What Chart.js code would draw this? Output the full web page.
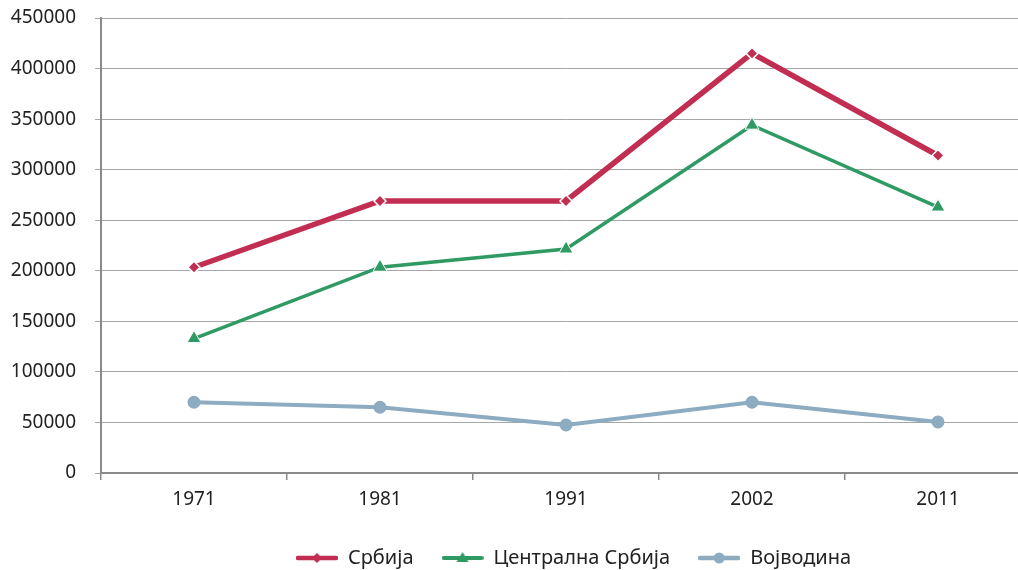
<!DOCTYPE html>
<html>
<head>
<meta charset="utf-8">
<script src="https://cdn.jsdelivr.net/npm/chart.js@4/dist/chart.umd.min.js"></script>
<style>
  html, body { margin: 0; padding: 0; background: #fff; overflow: hidden; }
  #wrap { width: 1040px; height: 578px; }
</style>
</head>
<body>
<div id="wrap"><canvas id="chart" width="1040" height="578"></canvas></div>
<script>
// Données
const years = ['1971', '1981', '1991', '2002', '2011'];
const srbija = [203500, 269000, 269000, 415000, 314000];
const centralnaSrbija = [133000, 203500, 221500, 344000, 263000];
const vojvodina = [70000, 65000, 47500, 70000, 50500];
const yTicks = [0, 50000, 100000, 150000, 200000, 250000, 300000, 350000, 400000, 450000];

const RED = '#c22d52';
const GREEN = '#2f9a63';
const BLUE = '#8dacc1';

// petite image ligne + marqueur pour la légende
function legendIcon(color, lw, shape) {
    const c = document.createElement('canvas');
    c.width = 42; c.height = 16;
    const g = c.getContext('2d');
    g.strokeStyle = color;
    g.lineWidth = lw;
    g.lineCap = 'round';
    g.beginPath(); g.moveTo(2, 8); g.lineTo(40, 8); g.stroke();
    g.fillStyle = color;
    g.beginPath();
    if (shape === 'diamond') {
        g.moveTo(21, 3); g.lineTo(26, 8); g.lineTo(21, 13); g.lineTo(16, 8);
    } else if (shape === 'triangle') {
        g.moveTo(21, 2); g.lineTo(27, 12); g.lineTo(15, 12);
    } else {
        g.arc(21, 8, 5.5, 0, Math.PI * 2);
    }
    g.closePath(); g.fill();
    return c;
}
const icons = [legendIcon(RED, 4.5, 'diamond'), legendIcon(GREEN, 4, 'triangle'), legendIcon(BLUE, 4.5, 'circle')];

// décale la légende vers la droite comme dans l'original
const legendShift = {
    id: 'legendShift',
    afterLayout: function(chart) {
        chart.legend.left += 58;
        chart.legend.right += 58;
    }
};

const ctx = document.getElementById('chart').getContext('2d');
new Chart(ctx, {
    type: 'line',
    data: {
        labels: years,
        datasets: [{
            label: 'Србија',
            data: srbija,
            borderColor: RED,
            borderWidth: 5.5,
            tension: 0,
            pointStyle: 'rectRot',
            pointRadius: 6,
            pointBackgroundColor: RED,
            pointBorderColor: '#fff',
            pointBorderWidth: 1.5
        }, {
            label: 'Централна Србија',
            data: centralnaSrbija,
            borderColor: GREEN,
            borderWidth: 3.5,
            tension: 0,
            pointStyle: 'triangle',
            pointRadius: 8,
            pointBackgroundColor: GREEN,
            pointBorderColor: '#fff',
            pointBorderWidth: 1
        }, {
            label: 'Војводина',
            data: vojvodina,
            borderColor: BLUE,
            borderWidth: 4,
            tension: 0,
            pointStyle: 'circle',
            pointRadius: 6.5,
            pointBackgroundColor: BLUE,
            pointBorderColor: BLUE,
            pointBorderWidth: 0
        }]
    },
    options: {
        responsive: false,
        animation: false,
        devicePixelRatio: 1,
        layout: { padding: { top: 18, right: 9, bottom: 0, left: 0 } },
        plugins: {
            tooltip: { enabled: false },
            legend: {
                position: 'bottom',
                labels: {
                    font: { family: 'Noto Sans', size: 20 },
                    color: '#222',
                    padding: 28,
                    usePointStyle: true,
                    pointStyleWidth: 42,
                    generateLabels: function(chart) {
                        return chart.data.datasets.map(function(ds, i) {
                            return {
                                text: ds.label,
                                pointStyle: icons[i],
                                fillStyle: ds.borderColor,
                                strokeStyle: ds.borderColor,
                                lineWidth: 0,
                                fontColor: '#222',
                                datasetIndex: i
                            };
                        });
                    }
                }
            }
        },
        scales: {
            x: {
                offset: true,
                grid: {
                    offset: true,
                    drawOnChartArea: false,
                    drawTicks: true,
                    tickLength: 7,
                    color: '#8a8a8a',
                    lineWidth: 1.5
                },
                border: { display: true, color: '#8a8a8a', width: 2 },
                ticks: {
                    font: { family: 'Noto Sans', size: 19 },
                    color: '#222',
                    padding: 8
                },
                afterFit: function(scale) { scale.height = 47; }
            },
            y: {
                min: 0,
                max: 450000,
                afterBuildTicks: function(scale) {
                    scale.ticks = yTicks.map(function(v) { return { value: v }; });
                },
                grid: {
                    color: '#a6a6a6',
                    lineWidth: 1,
                    drawTicks: true,
                    tickLength: 6
                },
                border: { display: true, color: '#8a8a8a', width: 2 },
                ticks: {
                    font: { family: 'Noto Sans', size: 19 },
                    color: '#222',
                    padding: 19,
                    callback: function(v) { return String(v); }
                },
                afterFit: function(scale) {
                    scale.width = 101;
                    scale.paddingTop = 0;
                    scale.paddingBottom = 0;
                }
            }
        }
    },
    plugins: [legendShift]
});
</script>
</body>
</html>
